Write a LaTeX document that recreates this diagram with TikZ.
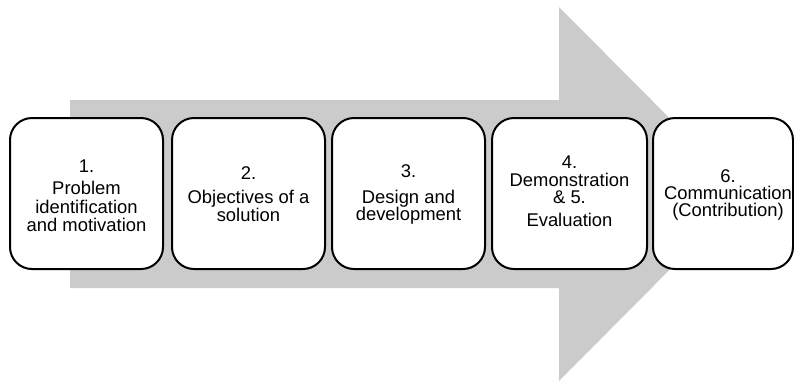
\documentclass[tikz,border=0pt]{standalone}
\usepackage{fontspec}
\setmainfont{Liberation Sans}
\definecolor{arrowgray}{RGB}{203,203,203}
\begin{document}
\begin{tikzpicture}[x=0.75pt,y=-0.75pt,
  stepbox/.style={draw=black, line width=1.5pt, fill=white, rounded corners=16.5pt,
    minimum height=113.25pt, inner sep=0pt},
  lbl/.style={anchor=base, inner sep=0pt, font=\fontsize{13.8pt}{14pt}\selectfont}]
\useasboundingbox (0,0) rectangle (794,380);
% big background arrow
\fill[arrowgray] (70,100) -- (559,100) -- (559,7) -- (745,194) -- (559,381)
  -- (559,288) -- (70,288) -- cycle;
% boxes
\node[stepbox, minimum width=114.75pt] (b1) at (86.5,193.5) {};
\node[stepbox, minimum width=114.75pt] (b2) at (248.5,193.5) {};
\node[stepbox, minimum width=114.75pt] (b3) at (408.5,193.5) {};
\node[stepbox, minimum width=116.25pt] (b4) at (569.5,193.5) {};
\node[stepbox, minimum width=105pt] (b5) at (723,193.5) {};
% texts box 1
\node[lbl] (t1a) at (86.5,172) {1.};
\node[lbl] (t1b) at (86.5,194) {Problem};
\node[lbl] (t1c) at (86.5,213) {identification};
\node[lbl] (t1d) at (86.5,231) {and motivation};
% box 2
\node[lbl] (t2a) at (248.5,179) {2.};
\node[lbl] (t2b) at (248.5,203) {Objectives of a};
\node[lbl] (t2c) at (248.5,221) {solution};
% box 3
\node[lbl] (t3a) at (408.5,177) {3.};
\node[lbl] (t3b) at (408.5,203) {Design and};
\node[lbl] (t3c) at (408.5,220) {development};
% box 4
\node[lbl] (t4a) at (569.5,168) {4.};
\node[lbl] (t4b) at (569.5,186) {Demonstration};
\node[lbl] (t4c) at (569.5,203) {\& 5.};
\node[lbl] (t4d) at (569.5,226) {Evaluation};
% box 5
\node[lbl] (t5a) at (728,182) {6.};
\node[lbl] (t5b) at (728,199) {Communication};
\node[lbl] (t5c) at (728,216) {(Contribution)};
\end{tikzpicture}
\end{document}
